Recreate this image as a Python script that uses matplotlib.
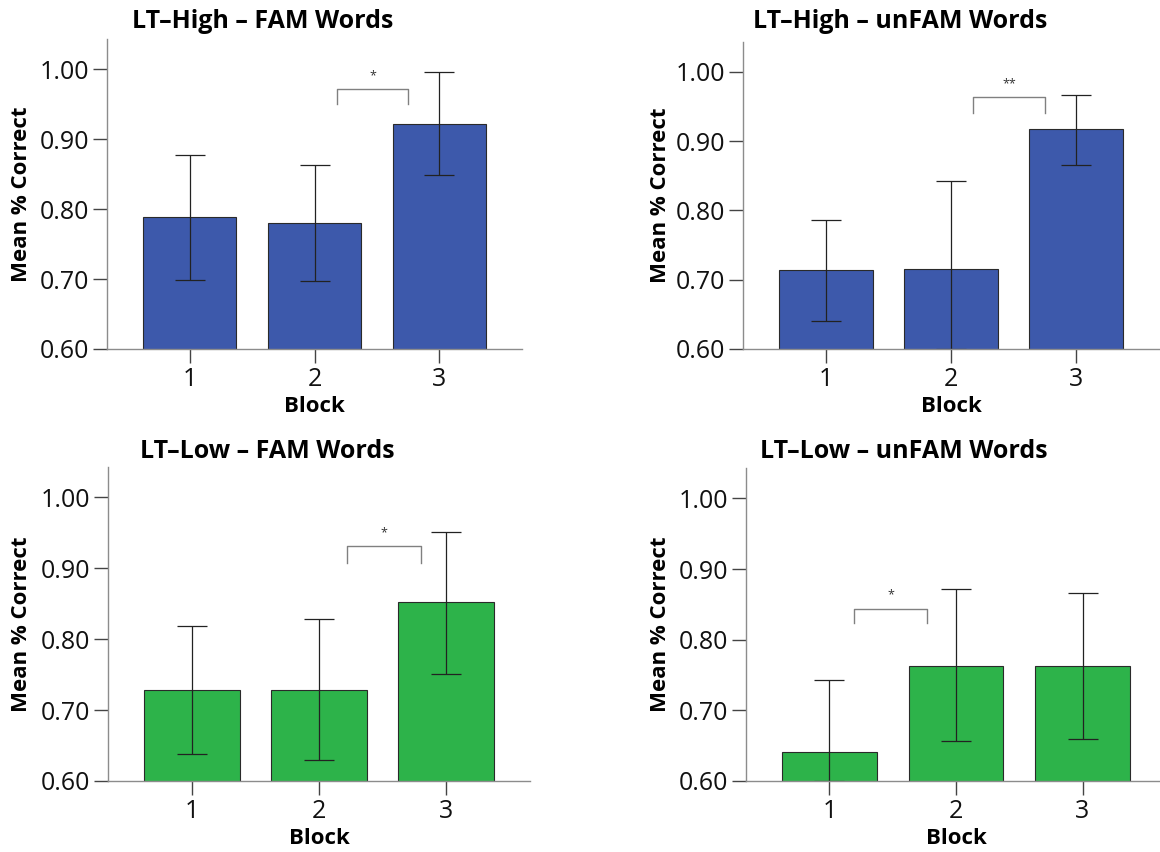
import matplotlib
matplotlib.use("Agg")
import matplotlib.pyplot as plt
import numpy as np

plt.rcParams['font.family'] = ['Open Sans', 'DejaVu Sans']

# ---------------- data ----------------
blocks = [1, 2, 3]
tick_labels = ["1", "2", "3"]
yticks = [0.60, 0.70, 0.80, 0.90, 1.00]

titles = ["LT–High – FAM Words", "LT–High – unFAM Words",
          "LT–Low – FAM Words", "LT–Low – unFAM Words"]

hi_fam_mean = [0.788, 0.780, 0.922]
hi_fam_low = [0.698, 0.697, 0.849]
hi_fam_high = [0.877, 0.863, 0.996]

hi_unfam_mean = [0.714, 0.716, 0.917]
hi_unfam_low = [0.641, 0.600, 0.866]
hi_unfam_high = [0.786, 0.843, 0.967]

lo_fam_mean = [0.729, 0.728, 0.852]
lo_fam_low = [0.638, 0.629, 0.751]
lo_fam_high = [0.819, 0.828, 0.952]

lo_unfam_mean = [0.641, 0.763, 0.763]
lo_unfam_low = [0.600, 0.656, 0.659]
lo_unfam_high = [0.743, 0.872, 0.866]

# significance brackets: (x_start, x_end, y_top, y_leg, label)
sig_hi_fam = (2.18, 2.75, 0.971, 0.950, "*")
sig_hi_unfam = (2.175, 2.75, 0.963, 0.941, "**")
sig_lo_fam = (2.22, 2.80, 0.931, 0.908, "*")
sig_lo_unfam = (1.195, 1.77, 0.844, 0.823, "*")

# ---------------- style / layout ----------------
BLUE = "#3d59ab"
GREEN = "#2db34a"
W, H = 1160, 852

panels = [
    dict(mean=hi_fam_mean, low=hi_fam_low, high=hi_fam_high, sig=sig_hi_fam, color=BLUE,
         box=(107, 522, 39, 349), title_xy=(263, 22), ylab_x=21.5),
    dict(mean=hi_unfam_mean, low=hi_unfam_low, high=hi_unfam_high, sig=sig_hi_unfam, color=BLUE,
         box=(743, 1159, 42, 349), title_xy=(900, 22), ylab_x=660),
    dict(mean=lo_fam_mean, low=lo_fam_low, high=lo_fam_high, sig=sig_lo_fam, color=GREEN,
         box=(108, 530, 467, 781), title_xy=(267, 451), ylab_x=21.5),
    dict(mean=lo_unfam_mean, low=lo_unfam_low, high=lo_unfam_high, sig=sig_lo_unfam, color=GREEN,
         box=(746, 1166, 468, 781), title_xy=(904, 451), ylab_x=660),
]

fig = plt.figure(figsize=(W / 100, H / 100), dpi=100)

for p, title in zip(panels, titles):
    x0, x1, yt, yb = p["box"]
    ax = fig.add_axes([x0 / W, 1 - yb / H, (x1 - x0) / W, (yb - yt) / H])
    mean = np.array(p["mean"])
    low = np.array(p["low"])
    high = np.array(p["high"])
    ax.bar(blocks, mean, width=0.75, color=p["color"], edgecolor="#2a2a2a",
           linewidth=0.8, zorder=2)
    ax.errorbar(blocks, mean, yerr=[mean - low, high - mean], fmt="none",
                ecolor="#222222", elinewidth=0.9, capsize=11, capthick=0.9, zorder=3)
    xs, xe, ytop, yleg, lab = p["sig"]
    ax.plot([xs, xs, xe, xe], [yleg, ytop, ytop, yleg], color="#808080", lw=1.0, zorder=3)
    ax.text((xs + xe) / 2, ytop + 0.010, lab, ha="center", va="bottom",
            fontsize=9, color="#333333")

    ax.set_xlim(0.34, 3.66)
    ax.set_ylim(0.60, 1.043)
    ax.set_yticks(yticks)
    ax.set_yticklabels([f"{v:.2f}" for v in yticks])
    ax.set_xticks(blocks)
    ax.set_xticklabels(tick_labels)
    for s in ["top", "right"]:
        ax.spines[s].set_visible(False)
    for s in ["left", "bottom"]:
        ax.spines[s].set_color("#8c8c8c")
        ax.spines[s].set_linewidth(1.0)
        ax.spines[s].set_zorder(4)
    ax.tick_params(axis="both", length=10, width=1.0, color="#444444",
                   labelsize=18, labelcolor="#111111", pad=3)
    ax.set_xlabel("Block", fontsize=16, fontweight="bold", labelpad=3)

    fig.text(p["title_xy"][0] / W, 1 - p["title_xy"][1] / H, title,
             ha="center", va="center", fontsize=18, fontweight="bold")
    fig.text(p["ylab_x"] / W, 1 - ((yt + yb) / 2) / H, "Mean % Correct",
             rotation=90, ha="center", va="center", fontsize=16, fontweight="bold")

fig.savefig("out.png", dpi=100)
